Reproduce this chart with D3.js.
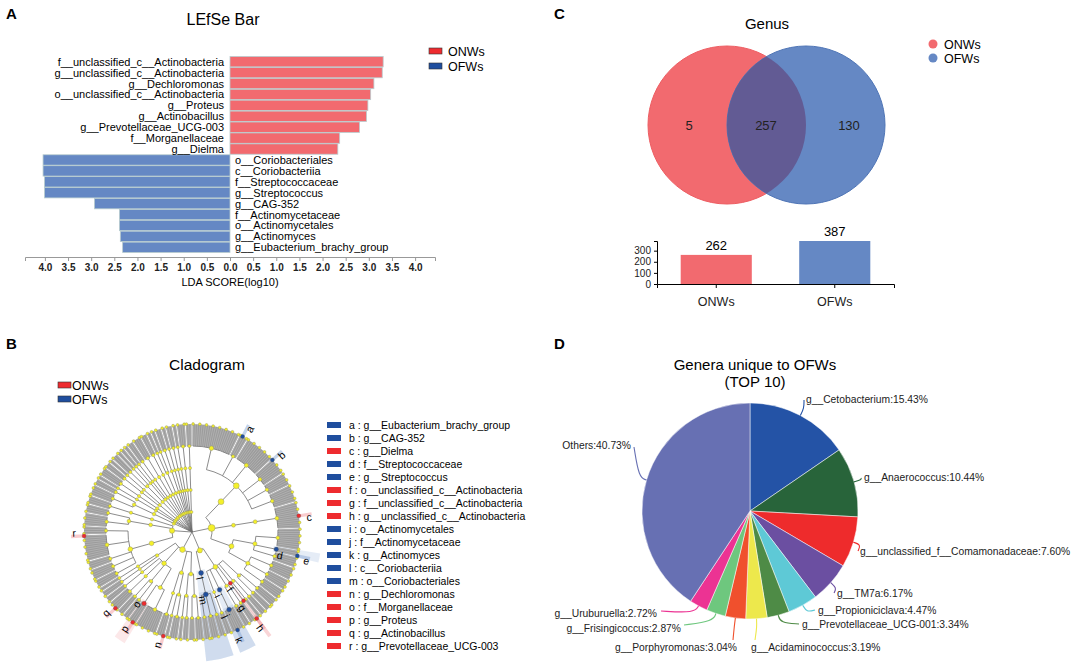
<!DOCTYPE html>
<html>
<head>
<meta charset="utf-8">
<script src="https://cdn.jsdelivr.net/npm/d3@7"></script>
<style>
  body { margin: 0; background: #fff; }
  svg { font-family: "Liberation Sans", Arial, sans-serif; }
</style>
</head>
<body>
<svg id="fig" width="1084" height="671"></svg>
<script>
// ---------- data ----------
var groups = ['ONWs', 'OFWs'];

// A: LEfSe bar
var ldaTaxa = [
  'f__unclassified_c__Actinobacteria', 'g__unclassified_c__Actinobacteria', 'g__Dechloromonas',
  'o__unclassified_c__Actinobacteria', 'g__Proteus', 'g__Actinobacillus', 'g__Prevotellaceae_UCG-003',
  'f__Morganellaceae', 'g__Dielma', 'o__Coriobacteriales', 'c__Coriobacteriia', 'f__Streptococcaceae',
  'g__Streptococcus', 'g__CAG-352', 'f__Actinomycetaceae', 'o__Actinomycetales', 'g__Actinomyces',
  'g__Eubacterium_brachy_group'
];
var ldaScores = [3.31, 3.29, 3.11, 3.04, 2.98, 2.95, 2.80, 2.37, 2.33,
                 4.04, 4.04, 4.01, 4.01, 2.93, 2.39, 2.39, 2.37, 2.32];
var ldaGroups = ['ONWs', 'ONWs', 'ONWs', 'ONWs', 'ONWs', 'ONWs', 'ONWs', 'ONWs', 'ONWs',
                 'OFWs', 'OFWs', 'OFWs', 'OFWs', 'OFWs', 'OFWs', 'OFWs', 'OFWs', 'OFWs'];
var ldaTicks = [-4, -3.5, -3, -2.5, -2, -1.5, -1, -0.5, 0, 0.5, 1, 1.5, 2, 2.5, 3, 3.5, 4];

// B: cladogram  (phylum > class > order > family = number of genera)
var cladeTree = [
  [[[22, 4, 14, 8, 6, 8]], [[12]], [[10, 3, 5], [6, 5, 5]]],                 // Firmicutes
  [[[4, 3], [3, 2], [1], [3, 3], [6], [3]], [[3, 4, 3]]],                      // Actinobacteria
  [[[4, 3], [3, 2]], [[4, 2], [4]], [[10, 4], [3, 3], [5], [3]], [[3], [2]]],  // Proteobacteria
  [[[4, 5, 4, 12, 4]], [[6, 4]], [[4]]],                                       // Bacteroidetes
  [[[5, 3]]], [[[2]]], [[[4]]], [[[3], [2]]], [[[3, 2]]], [[[2], [2]], [[3]]],
  [[[4]]], [[[3]]], [[[2, 2]]], [[[3]], [[2]]], [[[3]]], [[[2]]], [[[4]]], [[[3]]]
];
var cladoLetters = ['a', 'b', 'c', 'd', 'e', 'f', 'g', 'h', 'i', 'j', 'k', 'l', 'm', 'n', 'o', 'p', 'q', 'r'];
var cladoTaxa = [
  'g__Eubacterium_brachy_group', 'g__CAG-352', 'g__Dielma', 'f__Streptococcaceae', 'g__Streptococcus',
  'o__unclassified_c__Actinobacteria', 'f__unclassified_c__Actinobacteria', 'g__unclassified_c__Actinobacteria',
  'o__Actinomycetales', 'f__Actinomycetaceae', 'g__Actinomyces', 'c__Coriobacteriia', 'o__Coriobacteriales',
  'g__Dechloromonas', 'f__Morganellaceae', 'g__Proteus', 'g__Actinobacillus', 'g__Prevotellaceae_UCG-003'
];
var cladoGroups = ['OFWs', 'OFWs', 'ONWs', 'OFWs', 'OFWs', 'ONWs', 'ONWs', 'ONWs', 'OFWs', 'OFWs',
                   'OFWs', 'OFWs', 'OFWs', 'ONWs', 'ONWs', 'ONWs', 'ONWs', 'ONWs'];
var cladoPaths = [
  [0, 0, 0, 1, 1], [0, 0, 0, 3, 0], [0, 1, 0, 0, 6], [0, 2, 0, 1], [0, 2, 0, 1, 2],
  [1, 0, 2], [1, 0, 2, 0], [1, 0, 2, 0, 0], [1, 0, 4], [1, 0, 4, 0], [1, 0, 4, 0, 3],
  [1, 1], [1, 1, 0], [2, 1, 1, 0, 0], [2, 2, 0, 1], [2, 2, 0, 1, 1], [2, 2, 2, 0, 1], [3, 0, 0, 3, 11]
];

// C: Venn + totals
var vennCounts = [5, 257, 130];
var setTotals = [262, 387];
var totalTicks = [0, 100, 200, 300];

// D: pie
var pieLabels = ['g__Cetobacterium', 'g__Anaerococcus', 'g__unclassified_f__Comamonadaceae', 'g__TM7a',
  'g__Propioniciclava', 'g__Prevotellaceae_UCG-001', 'g__Acidaminococcus', 'g__Porphyromonas',
  'g__Frisingicoccus', 'g__Uruburuella', 'Others'];
var pieValues = [15.43, 10.44, 7.60, 6.17, 4.47, 3.34, 3.19, 3.04, 2.87, 2.72, 40.73];

// ---------- styles ----------
var barColors = { ONWs: '#f26a6f', OFWs: '#6588c4' };
var keyColors = { ONWs: '#ee2b2f', OFWs: '#1f4e9e' };
var pieColors = ['#2453a6', '#28643a', '#ee2b2c', '#6b4fa1', '#5ec9d6', '#4e8b46',
                 '#ede84c', '#f0502d', '#6ec77e', '#ec3393', '#6770b3'];
// label placement for the pie: end of leader, text anchor point
var pieLabelPos = [
  { ex: 804, ey: 400, tx: 806, ty: 403, anchor: 'start' },
  { ex: 861, ey: 478, tx: 864, ty: 481, anchor: 'start' },
  { ex: 858, ey: 551, tx: 860, ty: 555, anchor: 'start' },
  { ex: 834, ey: 593, tx: 837, ty: 597, anchor: 'start' },
  { ex: 815, ey: 610, tx: 818, ty: 614, anchor: 'start' },
  { ex: 799, ey: 624, tx: 802, ty: 628, anchor: 'start' },
  { ex: 755, ey: 640, tx: 751, ty: 651, anchor: 'start' },
  { ex: 733, ey: 640, tx: 737, ty: 651, anchor: 'end' },
  { ex: 684, ey: 625, tx: 681, ty: 632, anchor: 'end' },
  { ex: 661, ey: 611, tx: 657, ty: 617, anchor: 'end' },
  { ex: 634, ey: 447, tx: 631, ty: 449, anchor: 'end' }
];

var svg = d3.select('#fig');

// panel letters
[['A', 6, 19], ['B', 6, 349], ['C', 554, 19], ['D', 554, 349]].forEach(function(p) {
  svg.append('text').attr('x', p[1]).attr('y', p[2]).text(p[0])
    .attr('font-size', 15).attr('font-weight', 'bold');
});

function legendRects(g, x, y0, dy, gap) {
  groups.forEach(function(k, i) {
    g.append('rect').attr('x', x).attr('y', y0 + i * dy - 3).attr('width', 13).attr('height', 6)
      .attr('fill', keyColors[k]).attr('stroke', '#333').attr('stroke-width', 0.6);
    g.append('text').attr('x', x + 13 + gap).attr('y', y0 + i * dy + 4.5).text(k).attr('font-size', 12.5);
  });
}

// ---------- A: LEfSe bar ----------
(function() {
  var g = svg.append('g');
  var x = d3.scaleLinear().domain([-4.43, 4.43]).range([25, 435]);
  var y = d3.scaleBand().domain(ldaTaxa).range([56.5, 252.5]).paddingInner(0.05);

  g.append('text').attr('x', 223).attr('y', 25).attr('text-anchor', 'middle')
    .attr('font-size', 16).text('LEfSe Bar');

  g.selectAll('rect.bar').data(ldaTaxa).enter().append('rect')
    .attr('class', 'bar')
    .attr('x', function(d, i) { return ldaGroups[i] == 'ONWs' ? x(0) : x(-ldaScores[i]); })
    .attr('y', function(d) { return y(d); })
    .attr('width', function(d, i) { return x(ldaScores[i]) - x(0); })
    .attr('height', y.bandwidth())
    .attr('fill', function(d, i) { return barColors[ldaGroups[i]]; })
    .attr('stroke', '#b9cdcf').attr('stroke-width', 0.8);

  g.selectAll('text.tax').data(ldaTaxa).enter().append('text')
    .attr('class', 'tax')
    .attr('x', function(d, i) { return ldaGroups[i] == 'ONWs' ? x(0) - 6 : x(0) + 5; })
    .attr('y', function(d) { return y(d) + y.bandwidth() / 2 + 4; })
    .attr('text-anchor', function(d, i) { return ldaGroups[i] == 'ONWs' ? 'end' : 'start'; })
    .attr('font-size', 11)
    .text(function(d) { return d; });

  var ax = g.append('g').attr('transform', 'translate(0,257)')
    .call(d3.axisBottom(x).tickValues(ldaTicks).tickSize(4)
      .tickFormat(function(d) { return Math.abs(d).toFixed(1); }));
  ax.attr('font-family', null);
  ax.select('.domain').attr('stroke', '#999');
  ax.selectAll('.tick line').attr('stroke', '#999');
  ax.selectAll('.tick text').attr('font-size', 10).attr('font-weight', 'bold').attr('fill', '#222');

  g.append('text').attr('x', 230).attr('y', 286).attr('text-anchor', 'middle')
    .attr('font-size', 11).text('LDA SCORE(log10)');

  legendRects(g, 429, 51, 15, 6);
})();

// ---------- B: cladogram ----------
(function() {
  var g = svg.append('g');
  g.append('text').attr('x', 207).attr('y', 370).attr('text-anchor', 'middle')
    .attr('font-size', 15.5).text('Cladogram');
  legendRects(g, 58, 385, 14, 1);

  // build hierarchy from counts
  var rootObj = { children: cladeTree.map(function(ph) {
    return { children: ph.map(function(cl) {
      return { children: cl.map(function(or) {
        return { children: or.map(function(n) {
          return { children: d3.range(n).map(function() { return {}; }) };
        }) };
      }) };
    }) };
  }) };
  var root = d3.hierarchy(rootObj);
  d3.cluster().size([360, 1]).separation(function() { return 1; })(root);

  var ringR = [0, 20, 42, 64, 86, 108];
  var cx = 192, cy = 532;
  var cg = g.append('g').attr('transform', 'translate(' + cx + ',' + cy + ')');
  var rad = Math.PI / 180;
  function pt(a, r) {
    return [r * Math.sin(a * rad), -r * Math.cos(a * rad)];
  }
  function nodeAt(path) {
    var n = root;
    path.forEach(function(i) { n = n.children[i]; });
    return n;
  }
  var marked = cladoPaths.map(nodeAt);
  var step = 360 / root.leaves().length;
  var sector = d3.arc();

  // shaded sectors for discriminant clades
  marked.forEach(function(n, i) {
    var lv = n.leaves();
    var a0 = d3.min(lv, function(d) { return d.x; }) - step * 0.7;
    var a1 = d3.max(lv, function(d) { return d.x; }) + step * 0.7;
    var isLeaf = !n.children;
    cg.append('path')
      .attr('d', sector({
        innerRadius: isLeaf ? ringR[5] - 4 : ringR[n.depth] - 3,
        outerRadius: isLeaf ? ringR[5] + 13 : ringR[5] + 22,
        startAngle: a0 * rad, endAngle: a1 * rad
      }))
      .attr('fill', cladoGroups[i] == 'OFWs' ? '#7d9fd3' : '#f28d93')
      .attr('opacity', isLeaf ? 0.45 : 0.2);
  });

  // family bands: genus lines packed tight read as grey bands
  var fams = root.descendants().filter(function(d) { return d.depth == 4 && d.children.length > 1; });
  cg.selectAll('path.band').data(fams).enter().append('path')
    .attr('class', 'band')
    .attr('d', function(d) {
      var c = d.children;
      return sector({
        innerRadius: ringR[4], outerRadius: ringR[5],
        startAngle: (c[0].x - step * 0.3) * rad,
        endAngle: (c[c.length - 1].x + step * 0.3) * rad
      });
    })
    .attr('fill', '#9c9c9c');

  // elbow links: arc on the parent ring, then a radial spoke to each child
  var inner = root.descendants().filter(function(d) { return d.children && d.depth > 0; });
  cg.selectAll('path.arcl').data(inner).enter().append('path')
    .attr('class', 'arcl')
    .attr('d', function(d) {
      var r = ringR[d.depth], c = d.children;
      var p = d3.path();
      p.arc(0, 0, r, (c[0].x - 90) * rad, (c[c.length - 1].x - 90) * rad);
      return p.toString();
    })
    .attr('fill', 'none').attr('stroke', '#6f6f6f').attr('stroke-width', 0.8);

  cg.selectAll('line.link').data(root.links()).enter().append('line')
    .attr('class', 'link')
    .attr('x1', function(d) { return pt(d.target.x, ringR[d.source.depth])[0]; })
    .attr('y1', function(d) { return pt(d.target.x, ringR[d.source.depth])[1]; })
    .attr('x2', function(d) { return pt(d.target.x, ringR[d.target.depth])[0]; })
    .attr('y2', function(d) { return pt(d.target.x, ringR[d.target.depth])[1]; })
    .attr('stroke', function(d) { return d.target.depth == 5 ? '#c8c8c8' : '#6f6f6f'; })
    .attr('stroke-width', function(d) { return d.target.depth == 5 ? 0.45 : 0.8; });

  // node dots
  var dotNodes = root.descendants().filter(function(d) {
    if (d.depth == 0) return false;
    if (d.depth < 5) return true;
    return d.parent.children.indexOf(d) % 3 == 0;
  });
  cg.selectAll('circle.node').data(dotNodes).enter().append('circle')
    .attr('class', 'node')
    .attr('cx', function(d) { return pt(d.x, ringR[d.depth])[0]; })
    .attr('cy', function(d) { return pt(d.x, ringR[d.depth])[1]; })
    .attr('r', function(d) { return 1.2 + 0.22 * Math.sqrt(d.leaves().length); })
    .attr('fill', '#f4f02a').attr('stroke', '#8a8a6a').attr('stroke-width', 0.4);

  marked.forEach(function(n, i) {
    var p = pt(n.x, ringR[n.depth]);
    cg.append('circle').attr('cx', p[0]).attr('cy', p[1])
      .attr('r', 1.8 + 0.22 * Math.sqrt(n.leaves().length))
      .attr('fill', keyColors[cladoGroups[i]]).attr('stroke', '#555').attr('stroke-width', 0.3);
    var lp = pt(n.x + (n.children ? 3.5 : 1.5), ringR[n.depth] + (n.children ? 5 : 10));
    var rot = n.x < 180 ? n.x - 90 : n.x + 90;
    cg.append('text').attr('transform', 'translate(' + lp[0] + ',' + lp[1] + ') rotate(' + rot + ')')
      .attr('text-anchor', 'middle').attr('dy', 3.5).attr('font-size', 10.5)
      .text(cladoLetters[i]);
  });

  // key list
  var kg = g.append('g');
  cladoLetters.forEach(function(l, i) {
    var yy = 425 + i * 13;
    kg.append('rect').attr('x', 327).attr('y', yy - 3).attr('width', 14).attr('height', 6)
      .attr('fill', keyColors[cladoGroups[i]]);
    kg.append('text').attr('x', 349).attr('y', yy + 4).attr('font-size', 10.5)
      .text(l + ' : ' + cladoTaxa[i]);
  });
})();

// ---------- C: Venn ----------
(function() {
  var g = svg.append('g');
  g.append('text').attr('x', 767).attr('y', 29).attr('text-anchor', 'middle')
    .attr('font-size', 15).text('Genus');
  var r = 79, cy = 125, c1 = 727, c2 = 806;
  var defs = svg.append('defs');
  defs.append('clipPath').attr('id', 'clipL').append('circle')
    .attr('cx', c1).attr('cy', cy).attr('r', r);
  g.append('circle').attr('cx', c1).attr('cy', cy).attr('r', r)
    .attr('fill', barColors.ONWs).attr('stroke', '#ee5d62');
  g.append('circle').attr('cx', c2).attr('cy', cy).attr('r', r)
    .attr('fill', barColors.OFWs).attr('stroke', '#4f75b6');
  g.append('circle').attr('cx', c2).attr('cy', cy).attr('r', r)
    .attr('clip-path', 'url(#clipL)').attr('fill', '#625b94');
  var numX = [689, 766, 849];
  vennCounts.forEach(function(v, i) {
    g.append('text').attr('x', numX[i]).attr('y', cy).attr('dy', 4.5)
      .attr('text-anchor', 'middle').attr('font-size', 13).attr('fill', '#222').text(v);
  });
  groups.forEach(function(k, i) {
    g.append('circle').attr('cx', 933).attr('cy', 44 + i * 14).attr('r', 4.5).attr('fill', barColors[k]);
    g.append('text').attr('x', 944).attr('y', 48.5 + i * 14).attr('font-size', 12.5).text(k);
  });

  var x = d3.scaleBand().domain(groups).range([657, 894]).paddingInner(0.4).paddingOuter(0.2);
  var y = d3.scaleLinear().domain([0, 387]).range([284, 241]);
  g.selectAll('rect.tot').data(setTotals).enter().append('rect')
    .attr('x', function(d, i) { return x(groups[i]); })
    .attr('y', function(d) { return y(d); })
    .attr('width', x.bandwidth())
    .attr('height', function(d) { return 284 - y(d); })
    .attr('fill', function(d, i) { return barColors[groups[i]]; });
  g.selectAll('text.tot').data(setTotals).enter().append('text')
    .attr('x', function(d, i) { return x(groups[i]) + x.bandwidth() / 2; })
    .attr('y', function(d) { return y(d) - 5; })
    .attr('text-anchor', 'middle').attr('font-size', 13).text(function(d) { return d; });
  var ay = g.append('g').attr('transform', 'translate(657,0)')
    .call(d3.axisLeft(y).tickValues(totalTicks).tickSize(3).tickSizeOuter(3));
  ay.attr('font-family', null);
  ay.selectAll('.tick text').attr('font-size', 10).attr('fill', '#222');
  var axx = g.append('g').attr('transform', 'translate(0,284)')
    .call(d3.axisBottom(x).tickSize(4).tickSizeOuter(4));
  axx.attr('font-family', null);
  axx.selectAll('.tick text').attr('font-size', 12.5).attr('fill', '#222').attr('dy', '1.2em');
})();

// ---------- D: pie ----------
(function() {
  var g = svg.append('g');
  g.append('text').attr('x', 755).attr('y', 370).attr('text-anchor', 'middle')
    .attr('font-size', 15).text('Genera unique to OFWs');
  g.append('text').attr('x', 755).attr('y', 387).attr('text-anchor', 'middle')
    .attr('font-size', 15).text('(TOP 10)');
  var cx = 750, cy = 511, R = 108;
  var pie = d3.pie().sort(null).value(function(d) { return d; });
  var arcs = pie(pieValues);
  var arc = d3.arc().innerRadius(0).outerRadius(R);
  var pg = g.append('g').attr('transform', 'translate(' + cx + ',' + cy + ')');
  pg.selectAll('path').data(arcs).enter().append('path')
    .attr('d', arc)
    .attr('fill', function(d, i) { return pieColors[i]; })
    .attr('stroke', '#ffffff').attr('stroke-width', 0.5);

  var leader = d3.line().curve(d3.curveBasis);
  arcs.forEach(function(a, i) {
    var m = (a.startAngle + a.endAngle) / 2;
    var p0 = [cx + R * Math.sin(m), cy - R * Math.cos(m)];
    var p1 = [cx + (R + 8) * Math.sin(m), cy - (R + 8) * Math.cos(m)];
    var lp = pieLabelPos[i];
    g.append('path').attr('d', leader([p0, p1, [lp.ex, lp.ey]]))
      .attr('fill', 'none').attr('stroke', pieColors[i]).attr('stroke-width', 1.1);
    g.append('text').attr('x', lp.tx).attr('y', lp.ty).attr('text-anchor', lp.anchor)
      .attr('font-size', 10.3).attr('fill', '#222')
      .text(pieLabels[i] + ':' + pieValues[i].toFixed(2) + '%');
  });
})();
</script>
</body>
</html>
